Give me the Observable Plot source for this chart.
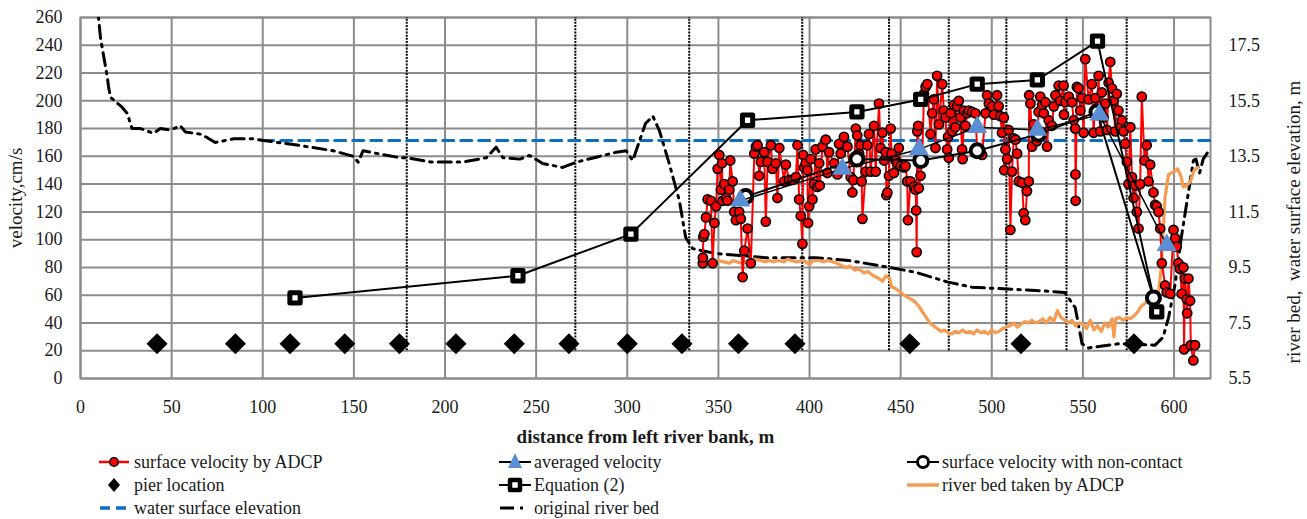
<!DOCTYPE html>
<html>
<head>
<meta charset="utf-8">
<script src="https://cdn.jsdelivr.net/npm/d3@7"></script>
<script src="https://cdn.jsdelivr.net/npm/@observablehq/plot@0.6"></script>
<style>
  html, body { margin: 0; padding: 0; background: #fff; }
  #chart { width: 1307px; }
  #chart svg, #chart svg text { font-family: "Liberation Serif", "Tinos", "Times New Roman", "Times", "DejaVu Serif", "Noto Serif", serif !important; }
  #legend { position: relative; width: 1307px; height: 69px; font-family: "Liberation Serif", "Tinos", "Times New Roman", "Times", "DejaVu Serif", "Noto Serif", serif; font-size: 18px; color: #1a1a1a; }
  .item { position: absolute; display: flex; align-items: center; height: 22px; white-space: nowrap; }
  .item svg { flex: none; }
  .item span { margin-left: 2px; }
</style>
</head>
<body>
<div id="chart"></div>
<div id="legend"></div>
<script>
// ---------- data ----------
const xTicks = [0, 50, 100, 150, 200, 250, 300, 350, 400, 450, 500, 550, 600];
const leftTicks = [0, 20, 40, 60, 80, 100, 120, 140, 160, 180, 200, 220, 240, 260];
const rightTickLabels = [5.5, 7.5, 9.5, 11.5, 13.5, 15.5, 17.5];

// surface velocity by ADCP [distance m, velocity cm/s]
const adcp = [
[341.4,83],[341.5,87],[341.7,102],[342.3,104],[343.2,116],[344.1,129],[345.9,128],[346.8,83],[347.8,112],[348.7,124],[349.6,151],[350.5,161],[351.4,136],[352,155],[352.3,128],[353.2,140],[354.2,130],[355,128],[356,136],[356.5,157],[357.8,142],[358.7,120],[359.6,114],[361.4,120],[362.3,115],[363.3,73],[364.2,92],[366,108],[367.8,83],[369.7,162],[370.6,167],[371.5,168],[372.4,146],[373.3,156],[375.1,163],[376,113],[377,156],[378.8,168],[379.7,151],[381.5,155],[382.4,130],[383.4,166],[386.1,142],[387,154],[388.8,143],[390.6,143],[392.5,145],[393.4,168],[394.3,129],[395.2,117],[396.1,97],[396.5,161],[397,152],[397.9,155],[398.8,150],[399.2,112],[399.8,124],[400.7,158],[401.6,129],[402.5,140],[403.4,165],[404.3,138],[405.3,155],[405.6,139],[407.1,167],[408.9,172],[409.8,148],[410.7,163],[413.5,155],[415.3,147],[416.2,169],[417.1,162],[418.9,174],[420.8,167],[422.6,145],[423.5,134],[424,143],[425.4,180],[426.2,175],[427.2,162],[428,168],[428.6,142],[429,115],[430.8,149],[431.7,168],[432.6,176],[433.6,149],[435.4,182],[436.3,149],[438.1,198],[439,166],[440,177],[440.9,157],[441.8,163],[442.2,132],[442.7,134],[443.6,146],[444.5,180],[445,162],[446.3,148],[447.2,157],[448.1,155],[449,166],[450,153],[451.8,152],[452.7,153],[453.6,142],[454,114],[455.4,142],[457.3,138],[458.2,136],[458.5,121],[458.8,91],[459.1,178],[459.6,182],[460,137],[460.9,146],[461.8,157],[462.8,205],[463.7,210],[464.6,212],[466.4,176],[467.3,191],[468.2,201],[469.1,166],[470,218],[471,183],[472.8,212],[473.7,193],[474.6,188],[475.5,165],[476,174],[476.4,159],[477.4,191],[478.3,178],[479.2,197],[480,181],[481,196],[481.9,200],[482.8,188],[483.7,165],[484,158],[484.7,193],[485.6,182],[486.5,191],[487.4,193],[489.2,192],[491,191],[492,164],[494.7,161],[496.5,191],[497.4,204],[498.4,198],[500.2,196],[501.1,190],[502.9,204],[503.8,196],[504.7,189],[505.6,177],[506.6,188],[506.8,150],[507.5,165],[508.4,158],[509.3,179],[510.2,107],[511.1,149],[512,173],[513,172],[513.9,162],[514.8,142],[516.6,141],[517.5,119],[518.4,114],[519.3,135],[520.3,142],[520.5,204],[521.2,198],[522.1,167],[523,183],[524.8,171],[525.7,192],[526.6,203],[527.6,197],[528.5,191],[529.4,199],[530.3,167],[531.2,186],[533,182],[534,196],[534.9,204],[536.7,211],[537.6,200],[539.4,211],[539.6,190],[540.3,199],[542.2,203],[544,199],[544.9,186],[545.8,180],[545.9,147],[546,128],[546.7,210],[547.6,209],[548.6,193],[549.5,202],[550.4,177],[551.3,230],[553.1,201],[554.9,212],[555.9,177],[556.8,202],[557.7,193],[558.6,218],[559.5,178],[560.4,206],[561.3,188],[562.3,198],[563.2,179],[564.1,213],[565,228],[565.9,209],[566.8,200],[567.7,178],[568.6,205],[569.5,193],[570.5,181],[571.4,186],[572.3,178],[573.2,169],[574.1,156],[575,140],[576,181],[576.9,145],[577.8,130],[578.7,139],[579.6,120],[580.5,108],[581.4,140],[582.3,203],[583.8,157],[585,168],[586,142],[586.9,154],[588.7,134],[589.6,125],[590.5,124],[591.5,120],[592.4,108],[593.3,83],[595.1,67],[596,62],[597.9,61],[599.7,107],[600.6,101],[601.5,95],[602.4,83],[603.3,79],[604.2,61],[605.1,80],[605.5,21],[606,72],[607,57],[607.2,47],[607.9,72],[608.8,56],[609.2,24],[610.6,13],[611.5,24]
];

// averaged velocity [m, cm/s]
const averaged = [[362,128],[418,151],[460,165],[492,181],[525,179],[559,190],[596,96]];
// surface velocity with non-contact [m, cm/s]
const nonContact = [[365,131],[426,158],[461,157],[492,164],[525.7,176],[557.7,192],[588.7,58]];
// Equation (2) [m, cm/s]
const equation2 = [[117.7,58],[240,74],[302,104],[366,186],[426,192],[461,201],[492,212],[525,215],[558,243],[590.5,48]];
// pier location [m]
const piers = [42, 85, 115, 145, 175, 206, 238, 268, 300, 330, 361, 392, 455, 516, 578];
const pierMarkerVelocity = 25;
// dotted vertical reference lines [m]
const dottedLines = [179, 271.5, 334, 396, 443.6, 476.4, 508, 541, 574];

// water surface elevation [m, elevation m]
const waterSurface = [[100,14.07],[620,14.07]];
// river bed taken by ADCP [m, elevation m]
const bedADCP = [
[340,9.85],[341,9.7],[343,9.6],[345,9.7],[348,9.65],[350,9.75],[353,9.7],[356,9.65],[358,9.75],[360,9.7],[363,9.65],[366,9.75],[368,9.7],[370,9.8],[373,9.75],[376,9.7],[378,9.75],[380,9.7],[383,9.75],[386,9.7],[388,9.8],[390,9.75],[393,9.7],[396,9.75],[398,9.7],[400,9.6],[402,9.75],[405,9.75],[408,9.7],[410,9.75],[413,9.7],[415,9.65],[418,9.55],[420,9.5],[422,9.55],[425,9.4],[427,9.45],[430,9.3],[432,9.35],[435,9.2],[438,9.1],[440,9.0],[442,9.2],[444,9.1],[445,8.8],[447,8.75],[450,8.6],[453,8.45],[456,8.35],[458,8.25],[460,8.1],[462,7.9],[464,7.7],[466,7.5],[468,7.4],[470,7.3],[472,7.2],[474,7.25],[476,7.15],[478,7.1],[480,7.2],[482,7.15],[484,7.25],[486,7.15],[488,7.2],[490,7.1],[492,7.25],[494,7.15],[496,7.2],[498,7.1],[500,7.25],[502,7.15],[504,7.2],[506,7.3],[508,7.35],[510,7.4],[512,7.5],[514,7.35],[516,7.45],[518,7.55],[520,7.5],[522,7.6],[524,7.5],[526,7.55],[528,7.65],[530,7.5],[532,7.7],[534,7.55],[536,7.95],[538,7.7],[540,7.6],[542,7.5],[544,7.6],[546,7.4],[548,7.5],[550,7.45],[552,7.3],[554,7.6],[556,7.25],[558,7.4],[560,7.2],[562,7.5],[564,7.35],[566,7.65],[567,7.0],[568,7.65],[570,7.7],[572,7.6],[574,7.7],[576,7.65],[578,7.75],[580,7.9],[582,8.1],[585,8.25],[589,8.25],[591,8.35],[593,9.5],[595,12.0],[597,12.85],[600,12.95],[602,13.05],[604,12.75],[605,12.4],[607,12.45],[609,12.6],[611,13.0],[613,13.1]
];
// original river bed [m, elevation m]
const bedOriginal = [
[8.8,19.2],[11,17.75],[14.6,16.4],[15.4,16.0],[16.4,15.63],[22.8,15.27],[25.6,15.05],[28.3,14.5],[32.9,14.5],[40.1,14.33],[43.8,14.5],[49.3,14.45],[54.8,14.6],[57.5,14.38],[65.7,14.3],[69.4,14.18],[73.9,14.0],[83.8,14.13],[94.9,14.13],[100.4,14.07],[120.5,13.89],[138.7,13.7],[149.7,13.5],[152.4,13.29],[155,13.7],[175.2,13.45],[179,13.45],[192,13.3],[210,13.3],[222.7,13.45],[228,13.83],[231.8,13.45],[241,13.4],[246.4,13.53],[253.6,13.24],[264.6,13.1],[272,13.29],[283,13.47],[294,13.65],[299.4,13.7],[303,13.35],[306.7,14.05],[310,14.68],[314,14.95],[317.6,14.43],[323,13.24],[328.6,11.9],[332,10.59],[335.8,10.18],[348.6,10.0],[376,9.85],[403.4,9.85],[421.7,9.75],[443.6,9.5],[458,9.33],[476,8.97],[489,8.79],[529,8.65],[540,8.6],[545.8,8.05],[549.5,6.75],[553,6.6],[569.5,6.75],[589.6,6.7],[594,6.99],[597,7.7],[600.6,8.9],[604,10.59],[608,12.25],[610.6,13.35],[612,13.4],[614,12.9],[616,13.4],[619,13.7]
];

// right axis (elevation) shares the left scale: 5.5 m ↔ 0 cm/s, 18.5 m ↔ 260 cm/s
const elevBase = 5.5, elevPerV = 0.05;
const toV = e => (e - elevBase) / elevPerV;
const fromV = v => elevBase + v * elevPerV;

// ---------- chart ----------
const GRID = "#8c8c8c";
const serif = "'Liberation Serif', 'Tinos', 'Times New Roman', 'DejaVu Serif', serif";

const chart = Plot.plot({
  width: 1307,
  height: 450,
  marginTop: 17,
  marginLeft: 80,
  marginRight: 97,
  marginBottom: 72,
  style: { fontFamily: serif, fontSize: "18px", color: "#1a1a1a", background: "#fff" },
  x: { domain: [0, 620] },
  y: { domain: [0, 260] },
  marks: [
    Plot.gridX(xTicks, { stroke: GRID, strokeOpacity: 1, strokeWidth: 2 }),
    Plot.gridY(leftTicks, { stroke: GRID, strokeOpacity: 1, strokeWidth: 2 }),
    Plot.frame({ stroke: GRID, strokeWidth: 2 }),
    Plot.axisX(xTicks, { tickSize: 0, tickPadding: 22, label: null }),
    Plot.axisY(leftTicks, { anchor: "left", tickSize: 0, tickPadding: 18, label: null }),
    Plot.axisY(rightTickLabels.map(toV), { anchor: "right", tickSize: 0, tickPadding: 18, label: null, tickFormat: v => fromV(v).toFixed(1) }),
    Plot.text(["distance from left river bank, m"], { frameAnchor: "bottom", dy: 64, fontWeight: "bold", fontSize: 19 }),
    Plot.text(["velocity,cm/s"], { frameAnchor: "left", dx: -65, rotate: -90, textAnchor: "middle", fontSize: 19 }),
    Plot.text(["river bed,  water surface elevation, m"], { frameAnchor: "right", dx: 83, dy: 24, rotate: -90, textAnchor: "middle", fontSize: 19 }),
    // dotted verticals
    Plot.ruleX(dottedLines, { y1: 20, y2: 260, stroke: "#000", strokeWidth: 2, strokeDasharray: "2,1.2" }),
    // water surface & beds (right axis)
    Plot.line(waterSurface, { x: d => d[0], y: d => toV(d[1]), stroke: "#0a6fc2", strokeWidth: 3, strokeDasharray: "11,7" }),
    Plot.line(bedOriginal, { x: d => d[0], y: d => toV(d[1]), stroke: "#000", strokeWidth: 3, strokeDasharray: "13,6,2.5,6", clip: true }),
    Plot.line(bedADCP, { x: d => d[0], y: d => toV(d[1]), stroke: "#f59b52", strokeWidth: 3.2 }),
    // ADCP surface velocity
    Plot.line(adcp, { x: d => d[0], y: d => d[1], stroke: "#ff0000", strokeWidth: 2 }),
    Plot.dot(adcp, { x: d => d[0], y: d => d[1], r: 4.6, fill: "#ff0000", stroke: "#000", strokeWidth: 1.6 }),
    // piers
    Plot.dot(piers, { x: d => d, y: () => pierMarkerVelocity, symbol: "diamond2", r: 9.5, fill: "#000", stroke: "none" }),
    // Equation (2)
    Plot.line(equation2, { x: d => d[0], y: d => d[1], stroke: "#000", strokeWidth: 2 }),
    Plot.dot(equation2, { x: d => d[0], y: d => d[1], symbol: "square", r: 5.8, fill: "#fff", stroke: "#000", strokeWidth: 5, strokeLinejoin: "round" }),
    // non-contact
    Plot.line(nonContact, { x: d => d[0], y: d => d[1], stroke: "#000", strokeWidth: 2 }),
    Plot.dot(nonContact, { x: d => d[0], y: d => d[1], r: 6.5, fill: "#fff", stroke: "#000", strokeWidth: 4 }),
    // averaged
    Plot.line(averaged, { x: d => d[0], y: d => d[1], stroke: "#000", strokeWidth: 1.5 }),
    Plot.dot(averaged, { x: d => d[0], y: d => d[1], symbol: "triangle", r: 7.5, fill: "#5b8fd4", stroke: "none" })
  ]
});
document.getElementById("chart").append(chart);

// ---------- legend ----------
const legendItems = [
  { label: "surface velocity by ADCP", left: 98, top: 12, sw: `<line x1="1" y1="11" x2="31" y2="11" stroke="#ff0000" stroke-width="2.5"/><circle cx="16" cy="11" r="4.3" fill="#ff0000" stroke="#000" stroke-width="1.5"/>` },
  { label: "averaged velocity", left: 498, top: 12, sw: `<line x1="1" y1="11" x2="33" y2="11" stroke="#000" stroke-width="2"/><path d="M17,2 L24,17 L10,17 Z" fill="#5b8fd4"/>` },
  { label: "surface velocity with non-contact", left: 906, top: 12, sw: `<line x1="1" y1="11" x2="33" y2="11" stroke="#000" stroke-width="2"/><circle cx="17" cy="11" r="5.5" fill="#fff" stroke="#000" stroke-width="3"/>` },
  { label: "pier location", left: 98, top: 35, sw: `<path d="M16,4 L22,11 L16,18 L10,11 Z" fill="#000"/>` },
  { label: "Equation (2)", left: 498, top: 35, sw: `<line x1="1" y1="11" x2="33" y2="11" stroke="#000" stroke-width="2"/><rect x="12" y="6" width="10" height="10" fill="#fff" stroke="#000" stroke-width="4.5" stroke-linejoin="round"/>` },
  { label: "river bed taken by ADCP", left: 906, top: 35, sw: `<line x1="1" y1="11" x2="33" y2="11" stroke="#f59b52" stroke-width="3.5"/>` },
  { label: "water surface elevation", left: 98, top: 58, sw: `<line x1="2" y1="11" x2="32" y2="11" stroke="#0a6fc2" stroke-width="3.5" stroke-dasharray="10,6"/>` },
  { label: "original river bed", left: 498, top: 58, sw: `<line x1="2" y1="11" x2="30" y2="11" stroke="#000" stroke-width="3" stroke-dasharray="14,6,3,6"/>` }
];
const legend = document.getElementById("legend");
for (const it of legendItems) {
  const div = document.createElement("div");
  div.className = "item";
  div.style.left = it.left + "px";
  div.style.top = (it.top - 11) + "px";
  div.innerHTML = `<svg width="34" height="22" viewBox="0 0 34 22">${it.sw}</svg><span>${it.label}</span>`;
  legend.append(div);
}
</script>
</body>
</html>
